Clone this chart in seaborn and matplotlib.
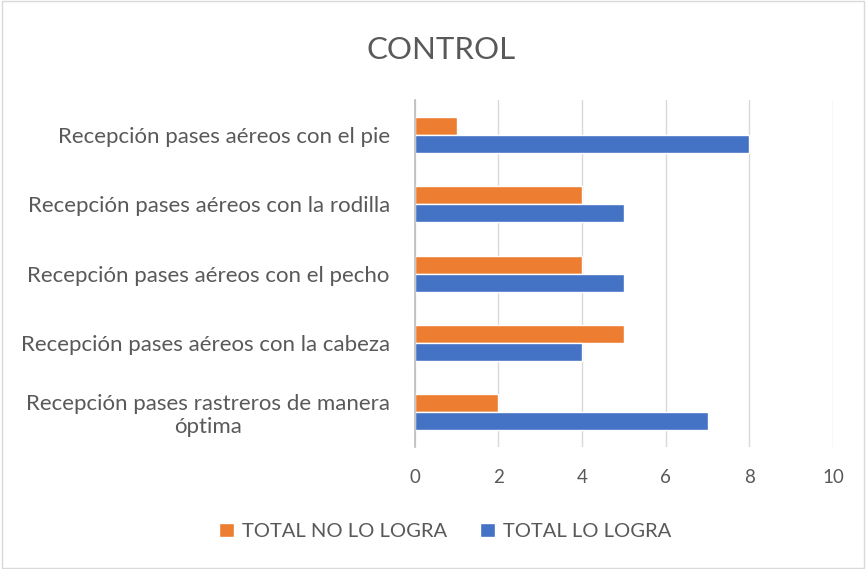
import matplotlib
matplotlib.use("Agg")
import matplotlib.pyplot as plt
import seaborn as sns
import pandas as pd
from matplotlib.patches import Rectangle

categories = [
    "Recepción pases aéreos con el pie",
    "Recepción pases aéreos con la rodilla",
    "Recepción pases aéreos con el pecho",
    "Recepción pases aéreos con la cabeza",
    "Recepción pases rastreros de manera\nóptima",
]
no_lo_logra = [1, 4, 4, 5, 2]
lo_logra = [8, 5, 5, 4, 7]
series = ["TOTAL NO LO LOGRA", "TOTAL LO LOGRA"]
colors = ["#ED7D31", "#4472C4"]

df = pd.DataFrame({
    "cat": categories * 2,
    "val": no_lo_logra + lo_logra,
    "serie": [series[0]] * 5 + [series[1]] * 5,
})

sns.set_theme(style="white")
plt.rcParams["font.family"] = ["Lato", "DejaVu Sans"]
txt = "#595959"

fig = plt.figure(figsize=(8.66, 5.69), dpi=100)
ax = fig.add_axes([0.479, 0.2144, 0.483, 0.6096])
sns.barplot(data=df, y="cat", x="val", hue="serie", hue_order=series,
            palette=colors, orient="h", width=0.52, ax=ax, saturation=1,
            legend=True)
ax.set_xlim(0, 10)
ax.set_xticks([0, 2, 4, 6, 8, 10])
ax.set_xlabel("")
ax.set_ylabel("")
ax.grid(axis="x", color="#D9D9D9", linewidth=1)
ax.set_axisbelow(True)
for s in ["top", "right", "bottom"]:
    ax.spines[s].set_visible(False)
ax.spines["left"].set_color("#BFBFBF")
ax.tick_params(axis="y", length=0, labelsize=16, colors=txt, pad=18)
ax.tick_params(axis="x", length=0, labelsize=13.5, colors=txt, pad=16)
for lab in ax.get_yticklabels():
    lab.set_horizontalalignment("right")
    lab.set_multialignment("center")
    lab.set_linespacing(1.15)
ax.set_ylim(4.5, -0.5)

handles, labels = ax.get_legend_handles_labels()
ax.legend_.remove()
fig.legend(handles, labels, loc="center", bbox_to_anchor=(0.514, 0.066),
           ncol=2, frameon=False, fontsize=14.5, labelcolor=txt,
           handlelength=0.75, handleheight=0.75, columnspacing=1.6, handletextpad=0.4)

fig.text(0.509, 0.912, "CONTROL", ha="center", va="center", fontsize=22.5, color=txt)
fig.patches.append(Rectangle((0.002, 0.002), 0.996, 0.996, transform=fig.transFigure,
                             fill=False, edgecolor="#D9D9D9", linewidth=1))
fig.savefig("out.png", dpi=100, facecolor="white")
